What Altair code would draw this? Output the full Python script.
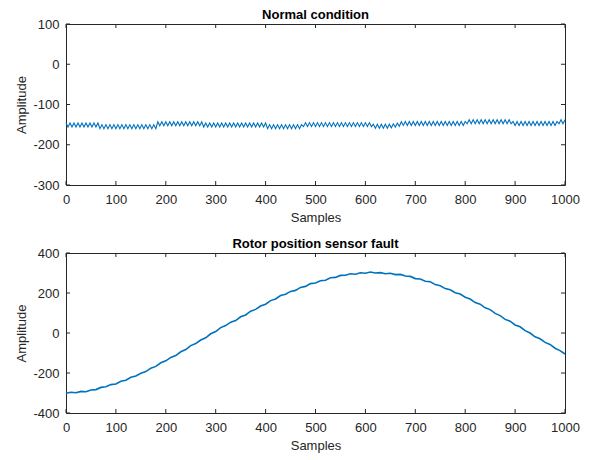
import altair as alt
import pandas as pd

# ---- data ----
x_ticks = [0, 100, 200, 300, 400, 500, 600, 700, 800, 900, 1000]
top_yticks = [-300, -200, -100, 0, 100]
bot_yticks = [-400, -200, 0, 200, 400]

# Normal condition: sampled every 4 samples (0..1000)
top_samples = list(range(0, 1001, 4))
top_values = [
    # 0..64
    -146, -156, -146, -156, -146, -156, -146, -156, -146, -156, -146, -156, -146, -156, -146, -156, -146,
    # 68..180
    -160, -150, -160, -150, -160, -150, -160, -150, -160, -150, -160, -150, -160, -150,
    -160, -150, -160, -150, -160, -150, -160, -150, -160, -150, -160, -150, -160, -150, -160,
    # 184..272
    -143, -153, -143, -153, -143, -153, -143, -153, -143, -153, -143, -153,
    -143, -153, -143, -153, -143, -153, -143, -153, -143, -153, -143,
    # 276..400
    -156, -146, -156, -146, -156, -146, -156, -146, -156, -146, -156, -146, -156, -146, -156, -146,
    -156, -146, -156, -146, -156, -146, -156, -146, -156, -146, -156, -146, -156, -146, -156, -146,
    # 404..472
    -160, -150, -160, -150, -160, -150, -160, -150, -160, -150, -160, -150, -160, -150, -160, -150, -160, -150,
    # 476..612
    -155, -145, -155, -145, -155, -145, -155, -145, -155, -145, -155, -145, -155, -145, -155, -145, -155, -145,
    -155, -145, -155, -145, -155, -145, -155, -145, -155, -145, -155, -145, -155, -145, -155, -145, -155,
    # 616..648
    -149, -159, -149, -159, -149, -159, -149, -159, -149,
    # 652..676
    -158, -148, -156, -146, -154, -143, -152,
    # 680..800
    -142, -152, -142, -152, -142, -152, -142, -152, -142, -152, -142, -152, -142, -152, -142, -152,
    -142, -152, -142, -152, -142, -152, -142, -152, -142, -152, -142, -152, -142, -152, -142,
    # 804..892
    -148, -138, -148, -138, -148, -138, -148, -138, -148, -138, -148, -138,
    -148, -138, -148, -138, -148, -138, -148, -138, -148, -138, -148,
    # 896..984
    -142, -152, -142, -152, -142, -152, -142, -152, -142, -152, -142, -152,
    -142, -152, -142, -152, -142, -152, -142, -152, -142, -152, -142,
    # 988..1000
    -148, -138, -148, -138,
]

# Rotor position sensor fault: sampled every 10 samples (0..1000)
bot_samples = list(range(0, 1001, 10))
bot_values = [
    -301, -296, -299, -292, -294, -285, -283, -272, -269, -258,
    -255, -241, -236, -221, -215, -201, -193, -176, -167, -149,
    -139, -122, -113, -94, -83, -63, -53, -35, -24, -4,
    7, 27, 37, 54, 62, 81, 90, 109, 118, 135,
    144, 162, 170, 187, 194, 208, 213, 228, 233, 247,
    250, 261, 264, 276, 278, 288, 289, 296, 294, 301,
    299, 305, 300, 302, 296, 299, 292, 293, 285, 283,
    272, 270, 259, 256, 242, 236, 222, 216, 201, 195,
    179, 170, 152, 144, 126, 117, 98, 87, 68, 59,
    40, 31, 12, 0, -19, -29, -47, -57, -76, -88,
    -105,
]

LINE_COLOR = "#0072BD"
AXIS_COLOR = "#262626"
FONT = "Liberation Sans"
W = 499
LABEL_EXPR = "'' + datum.value"


def panel(samples, values, title, ydom, yticks, h, sw):
    df = pd.DataFrame({"Samples": samples, "Amplitude": values})
    xs = alt.Scale(domain=[0, 1000], nice=False, zero=False)
    ys = alt.Scale(domain=ydom, nice=False, zero=False)
    xaxis = alt.Axis(values=x_ticks, ticks=False, domain=False, grid=False,
                     labelPadding=8, titlePadding=5, title="Samples",
                     labelFlush=False, labelOverlap=False, labelExpr=LABEL_EXPR)
    yaxis = alt.Axis(values=yticks, ticks=False, domain=False, grid=False,
                     labelPadding=7, titlePadding=4, title="Amplitude",
                     labelFlush=False, labelOverlap=False, labelExpr=LABEL_EXPR)
    X = lambda: alt.X("Samples:Q", scale=xs, axis=xaxis)
    Y = lambda: alt.Y("Amplitude:Q", scale=ys, axis=yaxis)
    line = alt.Chart(df).mark_line(color=LINE_COLOR, strokeWidth=sw).encode(x=X(), y=Y())
    xt = alt.Chart(pd.DataFrame({"Samples": x_ticks}))
    yt = alt.Chart(pd.DataFrame({"Amplitude": yticks}))
    tl = 4
    xb = xt.mark_rule(color=AXIS_COLOR, strokeWidth=1).encode(
        x=X(), y=alt.value(h), y2=alt.value(h - tl))
    xtp = xt.mark_rule(color=AXIS_COLOR, strokeWidth=1).encode(
        x=X(), y=alt.value(0), y2=alt.value(tl))
    yl = yt.mark_rule(color=AXIS_COLOR, strokeWidth=1).encode(
        y=Y(), x=alt.value(0), x2=alt.value(tl))
    yr = yt.mark_rule(color=AXIS_COLOR, strokeWidth=1).encode(
        y=Y(), x=alt.value(W), x2=alt.value(W - tl))
    return alt.layer(line, xb, xtp, yl, yr).properties(
        width=W, height=h,
        title=alt.TitleParams(title, fontSize=13, font=FONT, fontWeight="bold",
                              color="#000000", offset=-4, anchor="middle"),
    )


top = panel(top_samples, top_values, "Normal condition", [-300, 100], top_yticks, 161, 1.1)
bot = panel(bot_samples, bot_values, "Rotor position sensor fault", [-400, 400], bot_yticks, 160, 1.6)

chart = alt.vconcat(top, bot, spacing=12).properties(
    padding={"left": 7, "top": 0, "right": 5, "bottom": 5},
    background="white",
).configure_view(
    stroke=AXIS_COLOR, strokeWidth=1
).configure_axis(
    labelFont=FONT, labelFontSize=13, labelColor=AXIS_COLOR,
    titleFont=FONT, titleFontSize=13, titleFontWeight="normal", titleColor=AXIS_COLOR,
)

chart.save("out.html", embed_options={"renderer": "svg", "actions": False})
